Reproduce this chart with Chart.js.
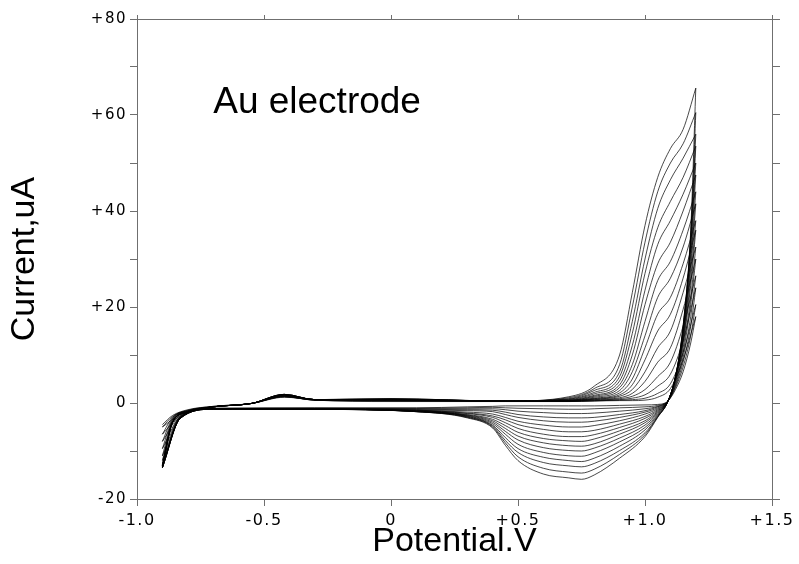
<!DOCTYPE html>
<html>
<head>
<meta charset="utf-8">
<script src="https://cdn.jsdelivr.net/npm/chart.js@4.4.1/dist/chart.umd.min.js"></script>
<style>
  body { margin: 0; background: #fff; }
  #wrap { width: 799px; height: 564px; }
</style>
</head>
<body>
<div id="wrap"><canvas id="cv" width="799" height="564"></canvas></div>
<script>
// potentials (V) of the sampled points, forward (anodic) and return (cathodic) sweeps
const anodicE = [-0.9, -0.86, -0.8, -0.7, -0.55, -0.42, -0.3, 0.0, 0.45, 0.7, 0.8, 0.9, 0.95, 1.0, 1.05, 1.1, 1.15, 1.2];
const cathodicE = [1.2, 1.18, 1.15, 1.12, 1.09, 1.05, 1.0, 0.9, 0.8, 0.75, 0.7, 0.6, 0.5, 0.45, 0.4, 0.3, 0.1, -0.3, -0.7, -0.83, -0.9];

// currents (uA), one pair of arrays per cycle (inner -> outer)
const up01 = [-4.5, -2.6, -1.4, -0.7, -0.1, 1.2, 0.6, 0.3, 0.3, 0.3, 0.4, 0.5, 0.5, 0.6, 1.2, 3.0, 9.0, 18.0];
const down01 = [18.0, 12.5, 6.5, 2.8, 0.4, -0.3, -0.4, -0.5, -0.6, -0.6, -0.6, -0.6, -0.6, -0.6, -0.7, -0.8, -1.0, -1.0, -1.1, -2.4, -5.0];
const up02 = [-5.0, -2.8, -1.5, -0.7, -0.1, 1.3, 0.6, 0.4, 0.4, 0.35, 0.45, 0.6, 0.7, 1.0, 2.0, 4.0, 10.5, 20.5];
const down02 = [20.5, 14.0, 7.5, 3.2, 0.4, -0.5, -0.8, -1.0, -1.2, -1.3, -1.3, -1.2, -1.1, -1.0, -0.9, -1.0, -1.1, -1.1, -1.1, -2.6, -6.5];
const up03 = [-6.5, -3.0, -1.6, -0.8, -0.1, 1.3, 0.6, 0.5, 0.4, 0.35, 0.5, 0.7, 1.0, 1.7, 3.5, 6.0, 13.0, 24.0];
const down03 = [24.0, 16.0, 8.5, 3.5, 0.4, -0.7, -1.2, -1.7, -2.1, -2.2, -2.2, -2.0, -1.7, -1.4, -1.2, -1.2, -1.2, -1.1, -1.2, -2.6, -8.0];
const up04 = [-8.0, -3.2, -1.6, -0.8, -0.1, 1.4, 0.6, 0.5, 0.4, 0.4, 0.6, 0.9, 1.4, 2.8, 5.5, 8.5, 16.0, 26.5];
const down04 = [26.5, 18.0, 9.5, 3.8, 0.4, -0.8, -1.6, -2.4, -3.0, -3.1, -3.1, -2.9, -2.4, -1.9, -1.5, -1.4, -1.3, -1.2, -1.2, -2.8, -9.5];
const up05 = [-9.5, -3.4, -1.7, -0.8, -0.1, 1.4, 0.6, 0.6, 0.4, 0.4, 0.7, 1.1, 2.0, 4.5, 8.5, 11.5, 19.5, 30.0];
const down05 = [30.0, 20.5, 10.5, 4.2, 0.4, -1.0, -1.9, -3.0, -3.8, -4.0, -4.0, -3.7, -3.0, -2.4, -1.8, -1.6, -1.4, -1.2, -1.2, -2.8, -11.0];
const up06 = [-11.0, -3.6, -1.7, -0.8, -0.1, 1.5, 0.7, 0.5, 0.4, 0.4, 0.8, 1.4, 2.8, 6.5, 11.5, 15.0, 23.0, 32.5];
const down06 = [32.5, 22.0, 11.5, 4.5, 0.4, -1.2, -2.3, -3.7, -4.7, -5.0, -5.0, -4.6, -3.8, -3.0, -2.3, -1.9, -1.5, -1.3, -1.2, -2.9, -12.0];
const up07 = [-12.0, -3.8, -1.8, -0.8, -0.1, 1.5, 0.7, 0.6, 0.4, 0.45, 0.9, 1.7, 3.8, 9.0, 15.0, 18.5, 26.0, 36.0];
const down07 = [36.0, 24.5, 12.5, 4.8, 0.4, -1.4, -2.8, -4.4, -5.7, -6.0, -6.0, -5.5, -4.5, -3.5, -2.7, -2.1, -1.5, -1.3, -1.2, -3.0, -12.8];
const up08 = [-12.8, -3.9, -1.8, -0.8, -0.1, 1.6, 0.7, 0.7, 0.4, 0.5, 1.0, 2.1, 5.0, 11.5, 18.5, 22.0, 29.0, 38.0];
const down08 = [38.0, 26.0, 13.0, 5.0, 0.4, -1.6, -3.2, -5.1, -6.6, -7.0, -7.0, -6.5, -5.3, -4.1, -3.0, -2.2, -1.6, -1.3, -1.2, -3.0, -13.0];
const up09 = [-13.0, -4.0, -1.8, -0.8, -0.1, 1.6, 0.7, 0.6, 0.4, 0.5, 1.2, 2.6, 6.5, 14.0, 22.0, 26.0, 32.5, 41.5];
const down09 = [41.5, 28.0, 13.5, 5.2, 0.4, -1.8, -3.7, -5.8, -7.5, -8.0, -7.9, -7.4, -6.1, -4.7, -3.4, -2.4, -1.6, -1.3, -1.2, -3.1, -13.3];
const up10 = [-13.3, -4.0, -1.9, -0.8, -0.1, 1.7, 0.7, 0.7, 0.4, 0.55, 1.4, 3.2, 8.0, 17.0, 25.5, 29.5, 36.0, 44.0];
const down10 = [44.0, 29.5, 14.0, 5.3, 0.4, -2.0, -4.1, -6.5, -8.5, -9.0, -8.9, -8.3, -6.9, -5.3, -3.7, -2.5, -1.7, -1.3, -1.2, -3.1, -13.0];
const up11 = [-13.0, -4.0, -1.9, -0.8, -0.1, 1.7, 0.7, 0.8, 0.4, 0.6, 1.6, 3.8, 10.0, 20.5, 29.0, 33.5, 40.0, 47.5];
const down11 = [47.5, 31.0, 14.5, 5.4, 0.4, -2.2, -4.6, -7.3, -9.4, -10.0, -9.9, -9.3, -7.7, -5.9, -4.0, -2.6, -1.7, -1.3, -1.2, -3.2, -13.5];
const up12 = [-13.5, -4.0, -1.9, -0.8, -0.1, 1.7, 0.7, 0.7, 0.4, 0.7, 1.9, 4.6, 12.0, 23.5, 33.0, 38.0, 43.5, 50.0];
const down12 = [50.0, 32.5, 15.0, 5.4, 0.3, -2.4, -5.1, -8.1, -10.4, -11.1, -11.0, -10.3, -8.6, -6.5, -4.3, -2.7, -1.7, -1.3, -1.2, -3.2, -13.2];
const up13 = [-13.2, -4.0, -1.9, -0.8, -0.1, 1.8, 0.7, 0.8, 0.4, 0.8, 2.2, 5.5, 14.5, 27.0, 36.5, 42.0, 47.0, 53.5];
const down13 = [53.5, 33.5, 15.5, 5.5, 0.3, -2.6, -5.6, -9.0, -11.5, -12.2, -12.0, -11.3, -9.5, -7.2, -4.6, -2.8, -1.8, -1.3, -1.3, -3.2, -13.5];
const up14 = [-13.5, -4.0, -1.9, -0.8, -0.1, 1.8, 0.7, 0.8, 0.4, 0.9, 2.6, 6.5, 17.0, 30.0, 40.5, 46.5, 51.0, 56.0];
const down14 = [56.0, 34.5, 15.5, 5.5, 0.3, -2.8, -6.2, -9.9, -12.6, -13.3, -13.1, -12.4, -10.3, -7.8, -4.8, -2.9, -1.8, -1.3, -1.3, -3.2, -13.0];
const up15 = [-13.0, -4.0, -1.9, -0.8, -0.1, 1.8, 0.7, 0.9, 0.4, 1.1, 3.0, 8.0, 20.0, 33.5, 44.0, 50.0, 54.0, 60.5];
const down15 = [60.5, 35.0, 16.0, 5.5, 0.3, -2.9, -6.6, -10.7, -13.8, -14.6, -14.4, -13.6, -11.2, -8.3, -5.0, -3.0, -1.8, -1.3, -1.3, -3.2, -13.5];
const up16 = [-13.5, -4.0, -1.9, -0.8, -0.1, 1.8, 0.7, 0.9, 0.4, 1.3, 3.5, 10.0, 23.0, 37.0, 47.0, 53.0, 57.0, 65.6];
const down16 = [65.6, 36.0, 16.0, 5.5, 0.3, -3.0, -7.0, -11.5, -15.0, -15.9, -15.6, -14.8, -12.0, -8.8, -5.2, -3.1, -1.8, -1.3, -1.3, -3.2, -13.5];

const upSweeps = [up01, up02, up03, up04, up05, up06, up07, up08, up09, up10, up11, up12, up13, up14, up15, up16];
const downSweeps = [down01, down02, down03, down04, down05, down06, down07, down08, down09, down10, down11, down12, down13, down14, down15, down16];

// axis ticks
const potentialTicks = [-1.0, -0.5, 0, 0.5, 1.0, 1.5];
const currentLabels = [-20, 0, 20, 40, 60, 80];
const noteText = "Au electrode";

const axisGray = "#6f6f6f";

function trace(eList, iList) {
  return {
    data: eList.map((e, j) => ({ x: e, y: iList[j] })),
    borderColor: "rgba(0,0,0,0.8)",
    borderWidth: 0.9,
    pointRadius: 0,
    cubicInterpolationMode: "monotone",
    xAxisID: "x",
    yAxisID: "y",
  };
}

let datasets = [];
upSweeps.forEach((cur, i) => {
  datasets.push(trace(anodicE, cur));
  datasets.push(trace(cathodicE, downSweeps[i]));
});

function fmtPotential(v) {
  if (!potentialTicks.includes(v)) return "";
  if (v == 0) return "0";
  return (v > 0 ? "+" : "") + v.toFixed(1);
}
function fmtCurrent(v) {
  if (!currentLabels.includes(v)) return "";
  if (v == 0) return "0";
  return (v > 0 ? "+" : "") + v;
}

// tick labels in the original are drawn wide; spacing is set only while they are drawn (ticks z=1)
const wideLabels = {
  id: "wideLabels",
  afterDatasetsDraw(chart) {
    chart.ctx.letterSpacing = "1.5px";
  },
  afterDraw(chart) {
    const ctx = chart.ctx;
    ctx.letterSpacing = "0px";
    ctx.save();
    ctx.font = '37px "Liberation Sans", Arial, sans-serif';
    ctx.fillStyle = "#000";
    ctx.textBaseline = "alphabetic";
    ctx.fillText(noteText, chart.scales.x.getPixelForValue(-0.7), chart.scales.y.getPixelForValue(60.4));
    ctx.restore();
  },
};

const tickFont = { family: "DejaVu Sans", size: 15 };
const titleFont = { family: "Liberation Sans", size: 34 };

new Chart(document.getElementById("cv"), {
  type: "line",
  data: { datasets: datasets },
  options: {
    responsive: false,
    animation: false,
    events: [],
    layout: { padding: 0 },
    plugins: { legend: { display: false }, tooltip: { enabled: false } },
    scales: {
      x: {
        type: "linear",
        position: "bottom",
        min: -1,
        max: 1.5,
        ticks: { stepSize: 0.5, z: 1, padding: 5, color: "#000", font: { family: "DejaVu Sans", size: 16 }, maxRotation: 0, autoSkip: false, callback: fmtPotential },
        grid: { drawOnChartArea: false, tickLength: 7, color: axisGray },
        border: { display: true, color: axisGray },
        title: { display: true, text: "Potential.V", color: "#000", font: titleFont, padding: { top: 0, bottom: 2 } },
        afterFit(s) { s.height = 65; },
      },
      xTop: {
        type: "linear",
        position: "top",
        min: -1,
        max: 1.5,
        ticks: { stepSize: 0.5, display: false },
        grid: { drawOnChartArea: false, tickLength: 4, color: axisGray },
        border: { display: true, color: axisGray },
        afterFit(s) { s.height = 19; },
      },
      y: {
        type: "linear",
        position: "left",
        min: -20,
        max: 80,
        ticks: { stepSize: 10, z: 1, padding: 3, color: "#000", font: tickFont, autoSkip: false, callback: fmtCurrent },
        grid: { drawOnChartArea: false, tickLength: 7, color: axisGray },
        border: { display: true, color: axisGray },
        title: { display: true, text: "Current,uA", color: "#000", font: titleFont, padding: { top: 4, bottom: 0 } },
        afterFit(s) { s.width = 137; },
      },
      yRight: {
        type: "linear",
        position: "right",
        min: -20,
        max: 80,
        ticks: { stepSize: 10, display: false },
        grid: { drawOnChartArea: false, tickLength: 8, color: axisGray },
        border: { display: true, color: axisGray },
        afterFit(s) { s.width = 27; },
      },
    },
  },
  plugins: [wideLabels],
});
</script>
</body>
</html>
